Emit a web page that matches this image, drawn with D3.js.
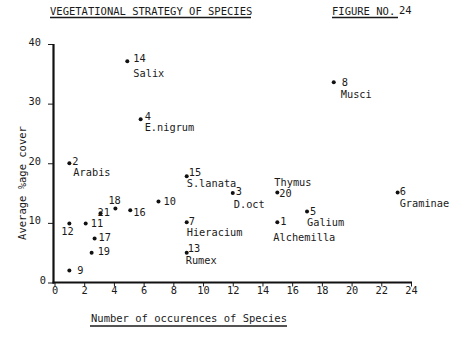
<!DOCTYPE html>
<html>
<head>
<meta charset="utf-8">
<script src="https://cdn.jsdelivr.net/npm/d3@7"></script>
<style>
  html, body { margin: 0; padding: 0; background: #fff; }
  svg { display: block; }
  text { font-family: "DejaVu Sans Mono", "Liberation Mono", monospace; fill: #1a1a1a; }
</style>
</head>
<body>
<svg id="chart" width="472" height="342"></svg>
<script>
// ---- data ----
const ids       = [1, 2, 3, 4, 5, 6, 7, 8, 9, 10, 11, 12, 13, 14, 15, 16, 17, 18, 19, 20, 21];
const occurrences = [15, 1, 12, 5.8, 17, 23.1, 8.9, 18.8, 1, 7, 2.1, 1, 8.9, 4.9, 8.9, 5.1, 2.7, 4.1, 2.5, 15, 3.1];
const cover     = [10.1, 20, 15, 27.4, 11.9, 15.1, 10.1, 33.6, 2, 13.6, 9.9, 9.9, 5, 37.1, 17.8, 12.1, 7.4, 12.4, 5, 15.1, 11.6];
const names     = ["Alchemilla", "Arabis", "D.oct", "E.nigrum", "Galium", "Graminae", "Hieracium", "Musci", "", "", "", "", "Rumex", "Salix", "S.lanata", "", "", "", "", "Thymus", ""];
const xTicks    = [0, 2, 4, 6, 8, 10, 12, 14, 16, 18, 20, 22, 24];
const yTicks    = [0, 10, 20, 30, 40];
const title     = "VEGETATIONAL STRATEGY OF SPECIES";
const figLabel  = "FIGURE NO.";
const figNum    = "24";
const xTitle    = "Number of occurences of Species";
const yTitle    = "Average %age cover";

// ---- layout (label offsets from each dot: number dx,dy ; name dx,dy) ----
const labelLayout = {
  1: [3, -1, -4, 15], 2: [3, -2, 4, 9], 3: [3, -2, 1, 11], 4: [4, -3, 4, 8],
  5: [3, -1, 0, 10], 6: [2, -1, 2, 11], 7: [2, -1, 0, 10], 8: [8, 0, 7, 12],
  9: [8, -1], 10: [5, 0], 11: [5, 0], 12: [-8, 8], 13: [1, -5, -1, 7],
  14: [6, -3, 6, 12], 15: [2, -4, 0, 7], 16: [3, 2], 17: [4, -1],
  18: [-7, -9], 19: [6, -2], 20: [2, 1, -3, -10], 21: [-3, -1]
};

const points = ids.map((id, i) => ({ id, x: occurrences[i], y: cover[i], name: names[i] }));

const svg = d3.select("#chart");
const FS = 10.3;

const x = d3.scaleLinear().domain([0, 24]).range([54.5, 411]);
const y = d3.scaleLinear().domain([0, 40]).range([282.5, 44]);

// Title
svg.append("text").attr("x", 50).attr("y", 14.5).attr("font-size", 10.5).text(title);
svg.append("line").attr("x1", 50).attr("x2", 251).attr("y1", 17.5).attr("y2", 17.5)
  .attr("stroke", "#1a1a1a").attr("stroke-width", 1.3);
svg.append("text").attr("x", 332).attr("y", 14.5).attr("font-size", 10.5).text(figLabel);
svg.append("text").attr("x", 399).attr("y", 13.5).attr("font-size", 10.5).text(figNum);
svg.append("line").attr("x1", 332).attr("x2", 398).attr("y1", 17.5).attr("y2", 17.5)
  .attr("stroke", "#1a1a1a").attr("stroke-width", 1.3);

// Axes
const yAxis = d3.axisLeft(y).tickValues(yTicks).tickSize(6).tickPadding(7).tickFormat(d3.format("d"));
const gy = svg.append("g").attr("transform", "translate(54,0)").call(yAxis);
gy.select(".domain").remove();
gy.selectAll(".tick line").attr("stroke", "#1a1a1a").attr("stroke-width", 1);
gy.selectAll(".tick text").attr("font-size", FS).attr("y", 0)
  .attr("dominant-baseline", "central")
  .attr("dy", -3).style("font-family", "DejaVu Sans Mono").attr("fill", "#1a1a1a")
  .attr("x", d => d === 0 ? -8 : -13);

const xAxis = d3.axisBottom(x).tickValues(xTicks).tickSize(4).tickPadding(0).tickFormat(d3.format("d"));
const gx = svg.append("g").attr("transform", "translate(0,282.5)").call(xAxis);
gx.select(".domain").remove();
gx.selectAll(".tick line").attr("stroke", "#1a1a1a").attr("stroke-width", 1);
gx.selectAll(".tick text").attr("font-size", FS).style("font-family", "DejaVu Sans Mono").attr("fill", "#1a1a1a");

// Axis lines (thick)
svg.append("line").attr("x1", 53.5).attr("x2", 53.5).attr("y1", y(40)).attr("y2", 283.5)
  .attr("stroke", "#111").attr("stroke-width", 2.2);
svg.append("line").attr("x1", 52.5).attr("x2", 412).attr("y1", 282.5).attr("y2", 282.5)
  .attr("stroke", "#111").attr("stroke-width", 2.2);

// Axis titles
svg.append("text").attr("x", 91).attr("y", 322).attr("font-size", 10.5).text(xTitle);
svg.append("line").attr("x1", 90).attr("x2", 287).attr("y1", 326).attr("y2", 326)
  .attr("stroke", "#1a1a1a").attr("stroke-width", 1.3);
svg.append("text").attr("transform", "translate(22,183) rotate(-90)")
  .attr("text-anchor", "middle").attr("dominant-baseline", "central")
  .attr("font-size", 10.5).text(yTitle);

// Points
const g = svg.append("g");
g.selectAll("circle").data(points).join("circle")
  .attr("cx", d => x(d.x)).attr("cy", d => y(d.y)).attr("r", 2).attr("fill", "#111");

g.selectAll("text.num").data(points).join("text").attr("class", "num")
  .attr("x", d => x(d.x) + labelLayout[d.id][0])
  .attr("y", d => y(d.y) + labelLayout[d.id][1])
  .attr("dominant-baseline", "central").attr("font-size", FS)
  .text(d => d.id);

g.selectAll("text.name").data(points.filter(d => d.name)).join("text").attr("class", "name")
  .attr("x", d => x(d.x) + labelLayout[d.id][2])
  .attr("y", d => y(d.y) + labelLayout[d.id][3])
  .attr("dominant-baseline", "central").attr("font-size", FS)
  .text(d => d.name);
</script>
</body>
</html>
